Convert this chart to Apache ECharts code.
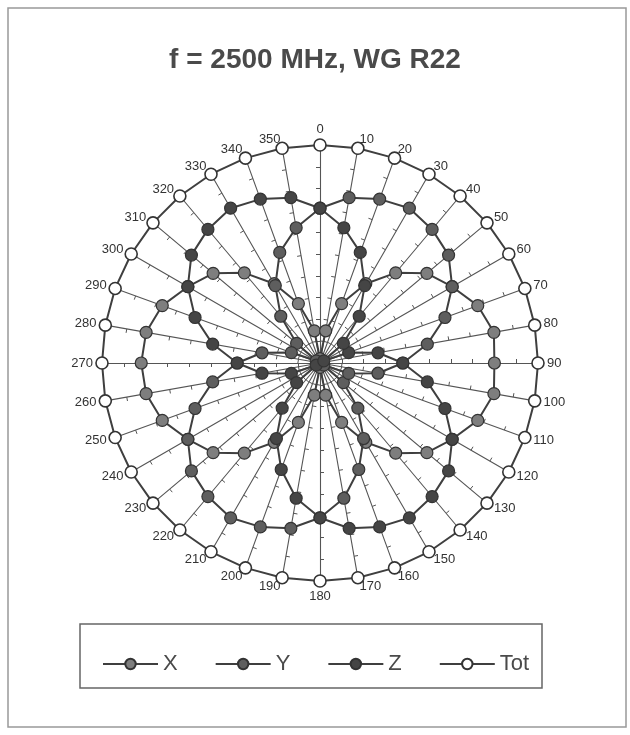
<!DOCTYPE html>
<html>
<head>
<meta charset="utf-8">
<script src="https://cdn.jsdelivr.net/npm/echarts@6/dist/echarts.min.js"></script>
<style>
html,body{margin:0;padding:0;background:#fff;}
#chart{width:630px;height:735px;}
</style>
</head>
<body>
<div id="chart"></div>
<script>
// Angles (degrees) and tick labels
const angles = [0,10,20,30,40,50,60,70,80,90,100,110,120,130,140,150,160,170,180,190,200,210,220,230,240,250,260,270,280,290,300,310,320,330,340,350];
const tickLabels = angles.map(String);

// Series values (normalised, outer circle = 1)
const xVals = [0.02,0.15,0.29,0.42,0.54,0.64,0.70,0.77,0.81,0.80,0.81,0.77,0.70,0.64,0.54,0.42,0.29,0.15,
               0.02,0.15,0.29,0.42,0.54,0.64,0.70,0.77,0.81,0.82,0.81,0.77,0.70,0.64,0.54,0.42,0.29,0.15];
const yVals = [0.71,0.77,0.80,0.82,0.80,0.77,0.70,0.61,0.50,0.38,0.27,0.14,0.02,0.14,0.27,0.40,0.52,0.63,
               0.71,0.77,0.80,0.82,0.80,0.77,0.70,0.61,0.50,0.38,0.27,0.14,0.02,0.14,0.28,0.41,0.54,0.63];
const zVals = [0.71,0.63,0.54,0.41,0.28,0.14,0.02,0.14,0.27,0.38,0.50,0.61,0.70,0.77,0.80,0.82,0.80,0.77,
               0.71,0.63,0.52,0.40,0.27,0.14,0.02,0.14,0.27,0.38,0.50,0.61,0.70,0.77,0.80,0.82,0.80,0.77];
const totVals = [1,1,1,1,1,1,1,1,1,1,1,1,1,1,1,1,1,1,1,1,1,1,1,1,1,1,1,1,1,1,1,1,1,1,1,1];

const seriesNames = ['X','Y','Z','Tot'];
const seriesFill = ['#7e7e7e','#5e5e5e','#454545','#ffffff'];

// radar places indicators counter-clockwise; reorder so angles run clockwise
const order = angles.map((_, i) => (angles.length - i) % angles.length);
const reorder = arr => order.map(i => arr[i]);
const indicator = order.map(i => ({ name: tickLabels[i], min: 0, max: 1 }));
const allVals = [xVals, yVals, zVals, totVals];

const chart = echarts.init(document.getElementById('chart'), null, { renderer: 'canvas' });

const radarSeries = seriesNames.map((n, k) => ({
  type: 'radar',
  name: n,
  z: 2 + k,
  symbol: 'circle',
  symbolSize: 12,
  itemStyle: { color: seriesFill[k], borderColor: '#333', borderWidth: k === 3 ? 1.6 : 1.2 },
  lineStyle: { color: '#3f3f3f', width: 2 },
  data: [{ name: n, value: reorder(allVals[k]) }]
}));

// empty line series only to give legend line+marker icons
const legendSeries = seriesNames.map((n, k) => ({
  type: 'line',
  name: n,
  data: [],
  symbol: 'circle',
  symbolSize: 10,
  itemStyle: { color: seriesFill[k], borderColor: '#333', borderWidth: 1.5 },
  lineStyle: { color: '#3f3f3f', width: 2.5 }
}));

chart.setOption({
  backgroundColor: '#fff',
  animation: false,
  title: {
    text: 'f = 2500 MHz, WG R22',
    left: 'center',
    top: 41,
    textStyle: { fontFamily: 'Liberation Sans, Arial, sans-serif', fontSize: 28, fontWeight: 'bold', color: '#4a4a4a' }
  },
  grid: { show: false, left: 0, top: 0, width: 1, height: 1 },
  xAxis: { type: 'value', show: false },
  yAxis: { type: 'value', show: false },
  legend: {
    data: seriesNames,
    left: 97,
    top: 648,
    itemWidth: 55,
    itemHeight: 13,
    itemGap: 37,
    selectedMode: false,
    textStyle: { fontFamily: 'Liberation Sans, Arial, sans-serif', fontSize: 22, color: '#4a4a4a' }
  },
  radar: {
    center: [320, 363],
    radius: 218,
    startAngle: 90,
    splitNumber: 10,
    shape: 'polygon',
    indicator: indicator,
    nameGap: 9,
    axisName: { color: '#333', fontSize: 13, fontFamily: 'Liberation Sans, Arial, sans-serif' },
    axisLine: { lineStyle: { color: '#555', width: 1.1 } },
    axisTick: { show: true, length: 4, lineStyle: { color: '#555', width: 1 } },
    axisLabel: { show: false },
    splitLine: { show: false },
    splitArea: { show: false }
  },
  graphic: [
    { type: 'rect', shape: { x: 8, y: 8, width: 618, height: 719 }, style: { fill: 'none', stroke: '#999', lineWidth: 1.5 }, silent: true },
    { type: 'rect', shape: { x: 80, y: 624, width: 462, height: 64 }, style: { fill: 'none', stroke: '#666', lineWidth: 1.5 }, silent: true }
  ],
  series: legendSeries.concat(radarSeries)
});
</script>
</body>
</html>
